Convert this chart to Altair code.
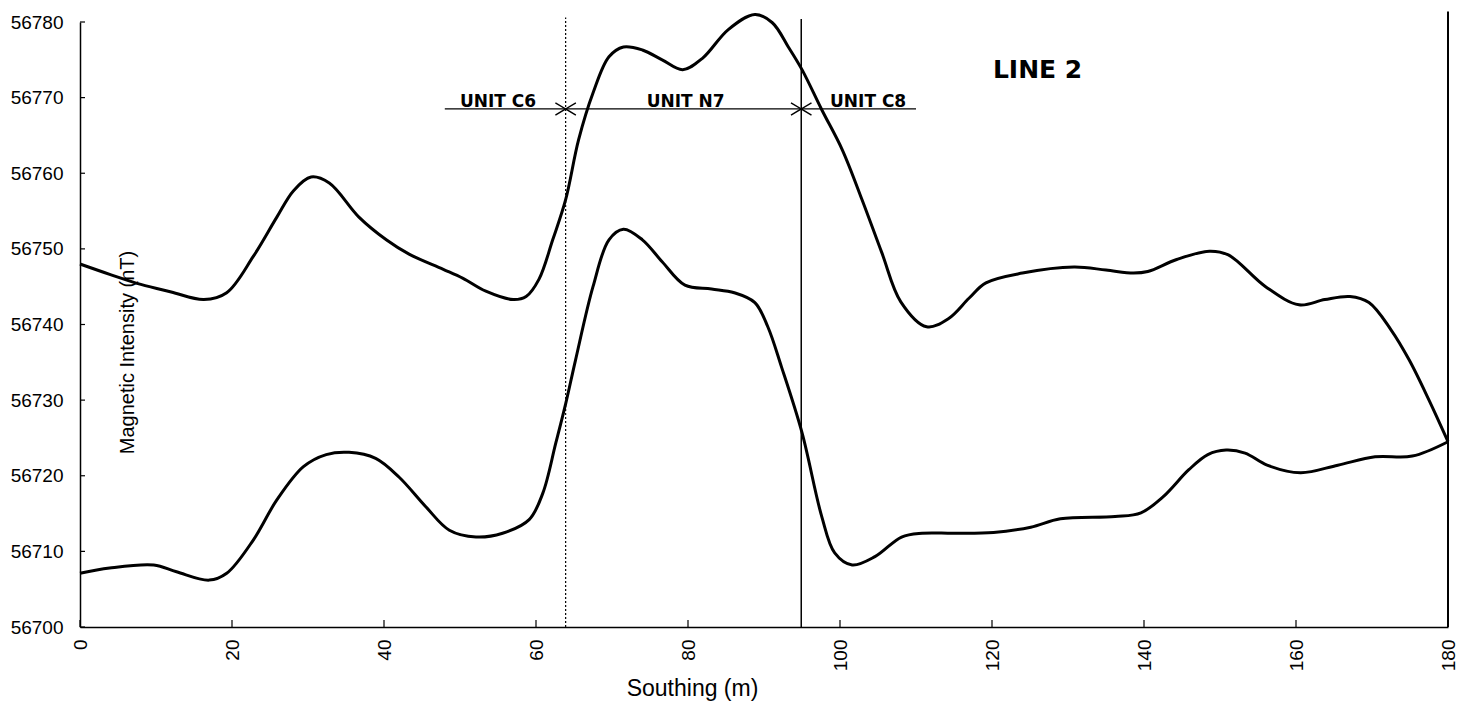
import altair as alt
import pandas as pd

# ---- data ----
upper_x = [0, 4, 8, 12, 16.3, 19.3, 22.8, 25.9, 28.1, 30.4, 32.8, 36.7, 40.3, 43.3, 47.8, 50.4,
           53.4, 57, 58.7, 60.4, 62.2, 63.9, 65.6, 67.5, 69.6, 71.5, 74, 76.6, 79.3, 81.9, 85.3,
           88.8, 91.1, 93.2, 95, 97.6, 100.3, 102.9, 105.5, 108, 111.4, 114.3, 117, 119.2, 124,
           130.8, 135, 138.6, 140.5, 144.3, 148.6, 151.1, 156, 160.4, 163.8, 167.1, 169.6, 172.5,
           174.9, 177.5, 180]
upper_v = [56748.0, 56746.6, 56745.3, 56744.3, 56743.3, 56744.2, 56749.0, 56754.2, 56757.7, 56759.5,
           56758.7, 56754.2, 56751.2, 56749.3, 56747.3, 56746.1, 56744.4, 56743.3, 56743.7, 56746.0,
           56751.2, 56756.5, 56764.4, 56770.6, 56775.4, 56776.7, 56776.3, 56775.0, 56773.7, 56775.2,
           56779.0, 56781.0, 56779.9, 56776.7, 56773.7, 56768.4, 56763.1, 56756.5, 56749.5, 56743.0,
           56739.7, 56740.8, 56743.5, 56745.5, 56746.8, 56747.6, 56747.2, 56746.8, 56747.0, 56748.6,
           56749.7, 56749.2, 56745.0, 56742.6, 56743.3, 56743.7, 56742.9, 56739.3, 56735.3, 56730.0,
           56724.5]

lower_x = [0, 3.9, 9.7, 12.7, 17, 19.3, 22.8, 25.9, 29.4, 32.4, 35.4, 38.9, 42, 45.5, 48.6, 52.1,
           55.6, 59.1, 60.9, 62.6, 63.9, 65.2, 67.5, 69.6, 71.5, 74, 76.6, 79.6, 83.1, 86.1, 88.8,
           90.5, 92.3, 95, 97.6, 99.3, 101.6, 104.6, 108.1, 110.8, 115, 120.2, 125.1, 129, 136.2,
           139.6, 142.5, 145.9, 148.4, 150.8, 153.3, 156.2, 160.6, 165.5, 170.4, 175.3, 180]
lower_v = [56707.1, 56707.8, 56708.2, 56707.3, 56706.2, 56707.1, 56711.5, 56716.8, 56721.2, 56722.8,
           56723.1, 56722.3, 56719.8, 56715.9, 56712.8, 56711.9, 56712.4, 56714.2, 56717.7, 56724.3,
           56729.5, 56735.3, 56745.0, 56751.2, 56752.6, 56751.2, 56748.3, 56745.2, 56744.7, 56744.2,
           56742.9, 56739.7, 56734.4, 56725.7, 56714.6, 56709.8, 56708.2, 56709.3, 56711.9, 56712.4,
           56712.4, 56712.5, 56713.2, 56714.3, 56714.6, 56715.1, 56717.2, 56720.8, 56722.8, 56723.4,
           56723.0, 56721.4, 56720.4, 56721.4, 56722.5, 56722.6, 56724.5]

x_ticks = [0, 20, 40, 60, 80, 100, 120, 140, 160, 180]
y_ticks = [56700, 56710, 56720, 56730, 56740, 56750, 56760, 56770, 56780]

unit_names = ["UNIT C6", "UNIT N7", "UNIT C8"]
unit_label_x = [55.0, 79.7, 103.7]
unit_bounds = [63.9, 94.9]
arrow_y = 56768.5
arrow_span = [48.0, 110.0]
line_title = "LINE 2"
line_title_x = 126.0
line_title_y = 56772.6
right_edge = 180.0

# ---- tables ----
curves = pd.DataFrame({
    "x": upper_x + lower_x,
    "v": upper_v + lower_v,
    "series": ["upper"] * len(upper_x) + ["lower"] * len(lower_x),
})

AX_FONT = "Liberation Sans"
xs = alt.Scale(domain=[0, 180], nice=False, zero=False)
ys = alt.Scale(domain=[56700, 56780], nice=False, zero=False)

x_axis = alt.Axis(values=x_ticks, labelAngle=270, labelFlush=False, labelOverlap=False, ticks=False,
                  labelPadding=12, labelFontSize=19, labelFont=AX_FONT, labelColor="black",
                  title="Southing (m)", titleX=612, titleY=61, titleAlign="center",
                  titleBaseline="middle", titleFontSize=23, titleFont=AX_FONT,
                  titleFontWeight="normal", titleColor="black", domainColor="black",
                  domainWidth=1.5, grid=False)
y_axis = alt.Axis(values=y_ticks, format="d", labelFlush=False, labelOverlap=False, ticks=False,
                  labelPadding=17, labelFontSize=19, labelFont=AX_FONT, labelColor="black",
                  title="Magnetic Intensity (nT)", titleX=47, titleY=330, titleAngle=270,
                  titleAlign="center", titleBaseline="middle", titleFontSize=20, titleFont=AX_FONT,
                  titleFontWeight="normal", titleColor="black", domainColor="black",
                  domainWidth=1.5, grid=False)

X = alt.X("x:Q", scale=xs, axis=x_axis)
Y = alt.Y("v:Q", scale=ys, axis=y_axis)

lines = alt.Chart(curves).mark_line(interpolate="catmull-rom", strokeWidth=3, color="black",
                                    clip=False).encode(x=X, y=Y, detail="series:N")

ytick_layer = alt.Chart(pd.DataFrame({"v": y_ticks})).mark_rule(color="black", strokeWidth=1.2).encode(
    y=Y, x=alt.value(0), x2=alt.value(5))
xtick_layer = alt.Chart(pd.DataFrame({"x": x_ticks})).mark_rule(color="black", strokeWidth=1.2).encode(
    x=X, y=alt.value(605), y2=alt.value(598))

dotted = alt.Chart(pd.DataFrame({"x": [unit_bounds[0]], "v": [56700], "v2": [56780.6]})).mark_rule(
    color="black", strokeWidth=1.2, strokeDash=[2, 2]).encode(x=X, y=Y, y2="v2:Q")
solid = alt.Chart(pd.DataFrame({"x": [unit_bounds[1]], "v": [56700], "v2": [56780.4]})).mark_rule(
    color="black", strokeWidth=1.5).encode(x=X, y=Y, y2="v2:Q")
border = alt.Chart(pd.DataFrame({"x": [right_edge], "v": [56700], "v2": [56781.4]})).mark_rule(
    color="black", strokeWidth=2).encode(x=X, y=Y, y2="v2:Q")

span = alt.Chart(pd.DataFrame({"x": [arrow_span[0]], "x2": [arrow_span[1]], "v": [arrow_y]})).mark_rule(
    color="black", strokeWidth=1.3).encode(x=X, x2="x2:Q", y=Y)

heads = pd.DataFrame({"x": unit_bounds, "v": [arrow_y] * len(unit_bounds)})
head_r = alt.Chart(heads).mark_point(shape="M-1,-0.6L0,0L-1,0.6", filled=False, size=420,
                                     color="black", strokeWidth=1.4, opacity=1).encode(x=X, y=Y)
head_l = alt.Chart(heads).mark_point(shape="M1,-0.6L0,0L1,0.6", filled=False, size=420,
                                     color="black", strokeWidth=1.4, opacity=1).encode(x=X, y=Y)

unit_text = alt.Chart(pd.DataFrame({"x": unit_label_x, "v": [arrow_y] * 3, "t": unit_names})).mark_text(
    font="DejaVu Sans", fontWeight="bold", fontSize=17, baseline="alphabetic", dy=-2,
    color="black").encode(x=X, y=Y, text="t:N")

title_text = alt.Chart(pd.DataFrame({"x": [line_title_x], "v": [line_title_y], "t": [line_title]})).mark_text(
    font="DejaVu Sans", fontWeight="bold", fontSize=25, baseline="alphabetic",
    color="black").encode(x=X, y=Y, text="t:N")

chart = alt.layer(
    lines, ytick_layer, xtick_layer, dotted, solid, border, span, head_r, head_l, unit_text, title_text
).properties(
    width=1368, height=605,
    autosize=alt.AutoSizeParams(type="none"),
    padding={"left": 72, "top": 14, "right": 11, "bottom": 76},
    background="white",
).configure_view(stroke=None)

chart.save("out.html", embed_options={"renderer": "svg", "actions": False})
